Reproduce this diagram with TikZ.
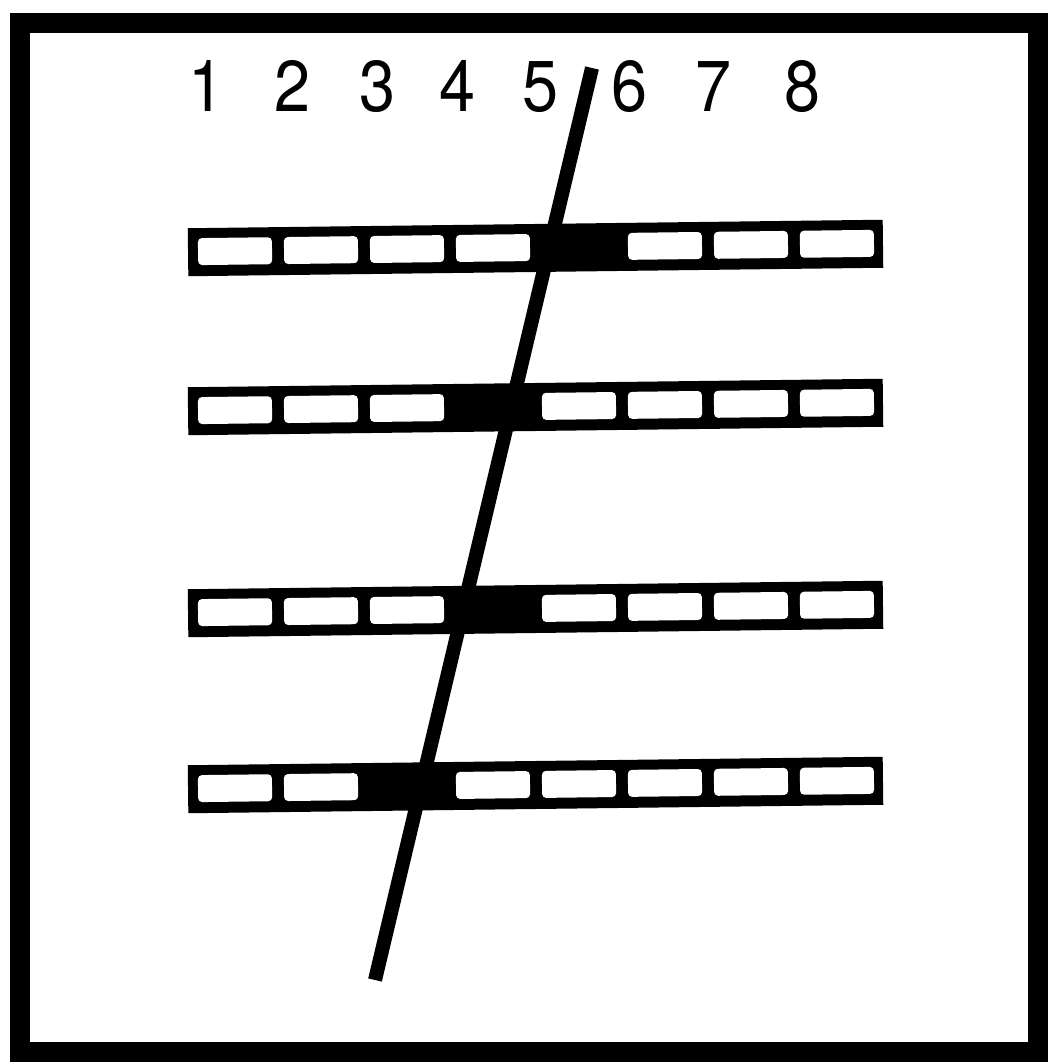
\documentclass[tikz,border=0pt]{standalone}
\usepackage{fontspec}
\setmainfont{TeX Gyre Heros}
\begin{document}
\begin{tikzpicture}[x=1pt,y=-1pt,
  frame/.style={line width=20pt},
  cellw/.style={fill=white, rounded corners=4pt},
  digit/.style={anchor=base, inner sep=0pt, font=\fontsize{72}{72}\selectfont, xscale=0.9},
  slash/.style={line width=14pt}]
\useasboundingbox (0,0) rectangle (1049,1064);
\fill[white] (0,0) rectangle (1049,1064);
\draw[frame] (20,23) rectangle (1038,1052);
\foreach \n/\x in {1/207,2/293,3/378,4/458,5/541,6/630,7/714,8/803}
  \node[digit] (d\n) at (\x,112) {\n};
\foreach \r/\y/\f in {1/248/5,2/407/4,3/609/4,4/785/3} {
  \begin{scope}[rotate around={0.7:(535,\y)}]
  \fill (188,{\y-24}) rectangle (883,{\y+24});
  \coordinate (row\r) at (535,\y);
  \foreach \j in {1,...,8} {
    \ifnum\j=\f\relax\else
      \fill[cellw] ({198+(\j-1)*86},{\y-14}) rectangle ({272+(\j-1)*86},{\y+13});
    \fi
  }
  \end{scope}
}
\coordinate (top) at (592,68);
\coordinate (bot) at (375,980);
\draw[slash] (top) -- (bot);
\end{tikzpicture}
\end{document}
